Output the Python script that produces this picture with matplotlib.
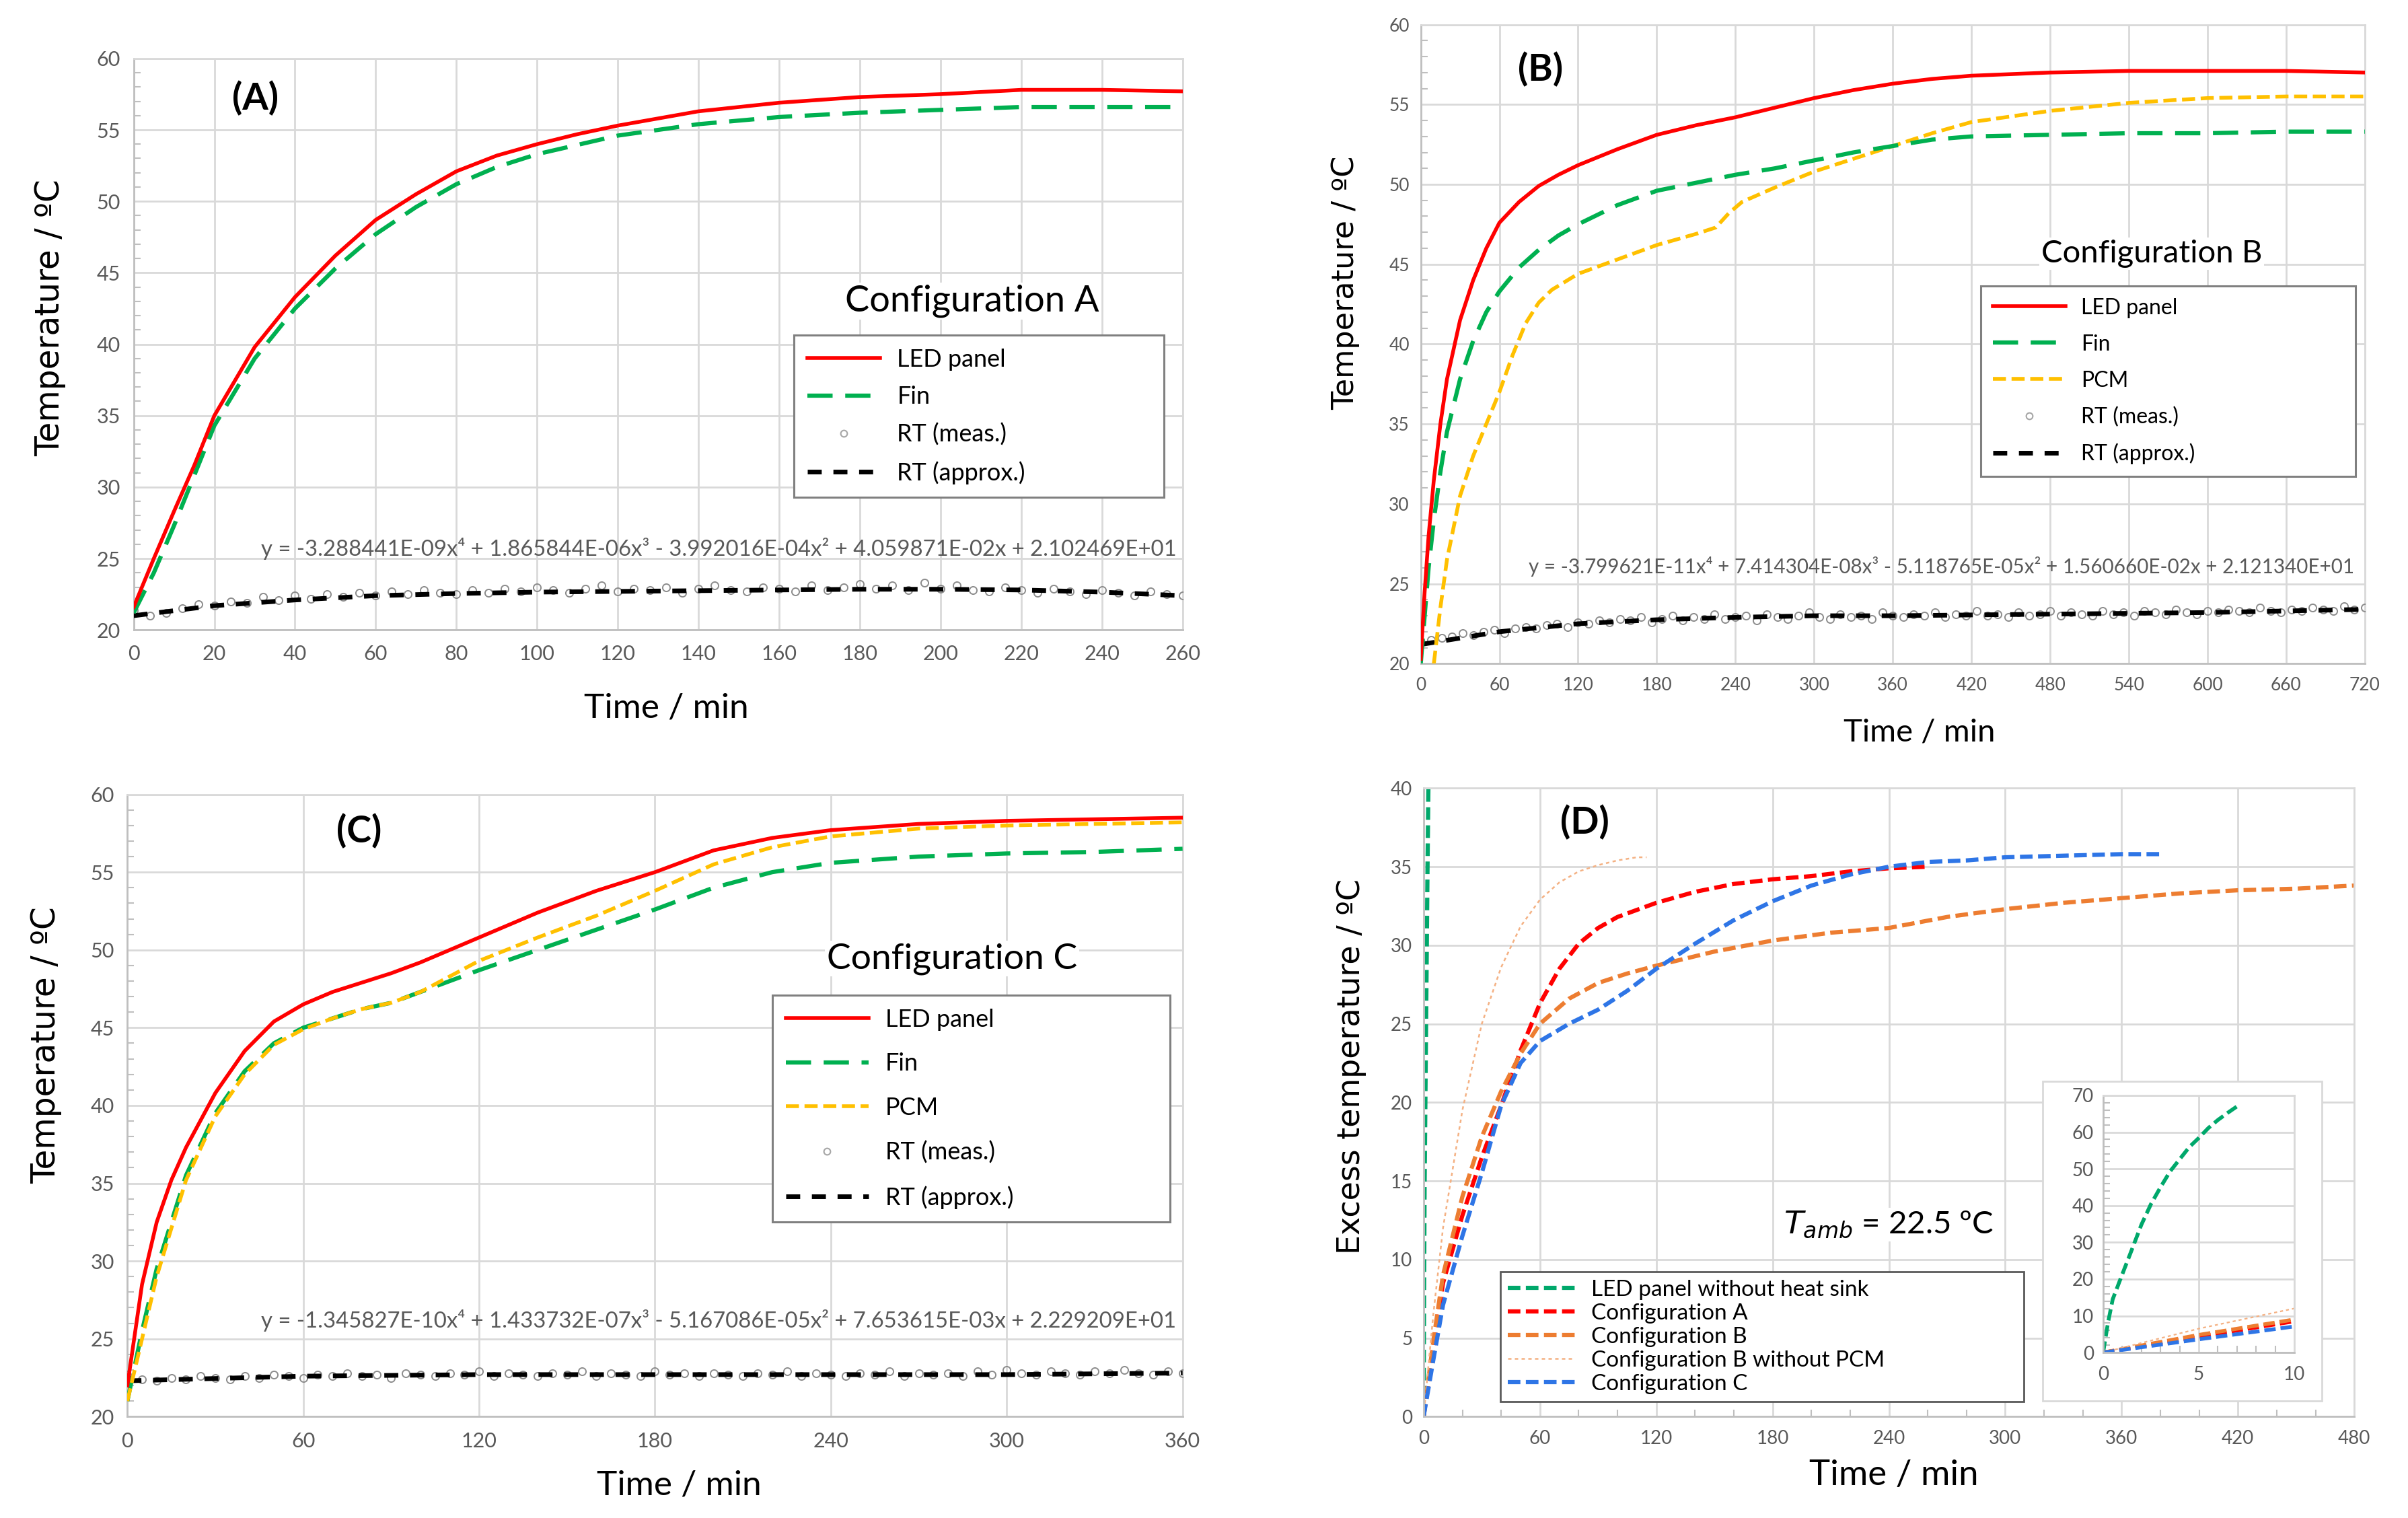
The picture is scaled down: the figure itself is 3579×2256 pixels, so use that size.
import numpy as np
import matplotlib
matplotlib.use("Agg")
import matplotlib.pyplot as plt
from matplotlib.lines import Line2D
from matplotlib.patches import Rectangle
from matplotlib.ticker import MultipleLocator

plt.rcParams["font.family"] = ["Lato", "DejaVu Sans"]

RED = "#FF0000"
GREEN = "#00B050"
GOLD = "#FFC000"
RT_GRAY = "#8C8C8C"
GRID = "#D9D9D9"
TICK = "#595959"

# ---------------- panel A : configuration A ----------------
a_led_t = [0, 5, 10, 15, 20, 30, 40, 50, 60, 70, 80, 90, 100, 110, 120, 130, 140, 160, 180, 200, 220, 240, 260]
a_led_T = [21.6, 25.0, 28.3, 31.5, 35.0, 39.8, 43.3, 46.2, 48.7, 50.5, 52.1, 53.2, 54.0, 54.7, 55.3, 55.8, 56.3, 56.9, 57.3, 57.5, 57.8, 57.8, 57.7]
a_fin_t = [0, 5, 10, 15, 20, 30, 40, 50, 60, 70, 80, 90, 100, 120, 140, 160, 180, 200, 220, 240, 260]
a_fin_T = [21.2, 24.0, 27.3, 30.8, 34.3, 39.0, 42.5, 45.3, 47.7, 49.6, 51.2, 52.4, 53.3, 54.6, 55.4, 55.9, 56.2, 56.4, 56.6, 56.6, 56.6]
a_rt_step = 4
a_rt_meas = [21.4, 21.0, 21.2, 21.5, 21.8, 21.7, 22.0, 21.9, 22.3, 22.1,
             22.4, 22.2, 22.5, 22.3, 22.6, 22.4, 22.7, 22.5, 22.8, 22.6,
             22.5, 22.8, 22.6, 22.9, 22.7, 23.0, 22.8, 22.6, 22.9, 23.1,
             22.7, 22.9, 22.8, 23.0, 22.6, 22.9, 23.1, 22.8, 22.7, 23.0,
             22.9, 22.7, 23.1, 22.8, 23.0, 23.2, 22.9, 23.1, 22.8, 23.3,
             22.9, 23.1, 22.8, 22.7, 23.0, 22.8, 22.6, 22.9, 22.7, 22.5,
             22.8, 22.6, 22.4, 22.7, 22.5, 22.4]
a_rt_t = [0, 20, 40, 60, 80, 100, 120, 140, 160, 180, 200, 220, 240, 260]
a_rt_T = [21.0, 21.7, 22.1, 22.4, 22.55, 22.65, 22.7, 22.75, 22.8, 22.85, 22.85, 22.8, 22.65, 22.4]
a_eq = "y = -3.288441E-09x⁴ + 1.865844E-06x³ - 3.992016E-04x² + 4.059871E-02x + 2.102469E+01"

# ---------------- panel B : configuration B ----------------
b_led_t = [0, 3, 6, 10, 15, 20, 30, 40, 50, 60, 75, 90, 105, 120, 150, 180, 210, 240, 270, 300, 330, 360, 390, 420, 480, 540, 600, 660, 720]
b_led_T = [20.3, 24.5, 28.0, 31.5, 35.0, 37.8, 41.5, 44.0, 46.0, 47.6, 48.9, 49.9, 50.6, 51.2, 52.2, 53.1, 53.7, 54.2, 54.8, 55.4, 55.9, 56.3, 56.6, 56.8, 57.0, 57.1, 57.1, 57.1, 57.0]
b_fin_t = [0, 3, 6, 10, 15, 20, 30, 40, 50, 60, 75, 90, 105, 120, 150, 180, 210, 240, 270, 300, 330, 360, 390, 420, 480, 540, 600, 660, 720]
b_fin_T = [20.0, 23.0, 26.0, 29.0, 32.0, 34.5, 37.8, 40.2, 42.0, 43.3, 44.8, 45.9, 46.8, 47.5, 48.7, 49.6, 50.1, 50.6, 51.0, 51.5, 52.0, 52.4, 52.8, 53.0, 53.1, 53.2, 53.2, 53.3, 53.3]
b_pcm_t = [10, 15, 20, 30, 40, 50, 60, 70, 80, 90, 100, 120, 150, 180, 210, 225, 235, 245, 270, 300, 330, 360, 390, 420, 480, 540, 600, 660, 720]
b_pcm_T = [20.0, 23.5, 26.5, 30.5, 33.0, 35.0, 37.0, 39.3, 41.3, 42.6, 43.4, 44.4, 45.3, 46.2, 46.9, 47.3, 48.2, 48.9, 49.8, 50.8, 51.6, 52.4, 53.2, 53.9, 54.6, 55.1, 55.4, 55.5, 55.5]
b_rt_step = 8
b_rt_meas = [21.3, 21.5, 21.6, 21.7, 21.9, 21.8, 22.0, 22.1, 21.9, 22.2,
             22.3, 22.2, 22.4, 22.5, 22.3, 22.6, 22.5, 22.7, 22.6, 22.8,
             22.7, 22.9, 22.6, 22.8, 23.0, 22.7, 22.9, 22.8, 23.1, 22.8,
             22.9, 23.0, 22.7, 23.1, 22.9, 22.8, 23.0, 23.2, 22.9, 22.8,
             23.1, 22.9, 23.0, 22.8, 23.2, 23.0, 22.9, 23.1, 23.0, 23.2,
             22.9, 23.1, 23.0, 23.3, 23.0, 23.1, 22.9, 23.2, 23.0, 23.1,
             23.3, 23.0, 23.2, 23.1, 23.0, 23.3, 23.1, 23.2, 23.0, 23.3,
             23.2, 23.1, 23.4, 23.2, 23.1, 23.3, 23.2, 23.4, 23.3, 23.2,
             23.5, 23.3, 23.2, 23.4, 23.3, 23.5, 23.4, 23.3, 23.6, 23.4, 23.5]
b_rt_t = [0, 60, 120, 180, 240, 300, 360, 420, 480, 540, 600, 660, 720]
b_rt_T = [21.2, 22.0, 22.5, 22.75, 22.9, 23.0, 23.0, 23.05, 23.1, 23.15, 23.2, 23.3, 23.4]
b_eq = "y = -3.799621E-11x⁴ + 7.414304E-08x³ - 5.118765E-05x² + 1.560660E-02x + 2.121340E+01"

# ---------------- panel C : configuration C ----------------
c_led_t = [0, 5, 10, 15, 20, 30, 40, 50, 60, 70, 80, 90, 100, 120, 140, 160, 180, 200, 220, 240, 270, 300, 330, 360]
c_led_T = [22.0, 28.5, 32.5, 35.2, 37.3, 40.8, 43.5, 45.4, 46.5, 47.3, 47.9, 48.5, 49.2, 50.8, 52.4, 53.8, 55.0, 56.4, 57.2, 57.7, 58.1, 58.3, 58.4, 58.5]
c_fin_t = [0, 5, 10, 20, 30, 40, 50, 60, 70, 80, 90, 100, 120, 140, 160, 180, 200, 220, 240, 270, 300, 330, 360]
c_fin_T = [21.0, 25.5, 29.5, 35.5, 39.5, 42.2, 44.0, 45.0, 45.6, 46.2, 46.6, 47.3, 48.7, 50.0, 51.3, 52.6, 54.0, 55.0, 55.6, 56.0, 56.2, 56.3, 56.5]
c_pcm_t = [0, 5, 10, 20, 30, 40, 50, 60, 70, 80, 90, 100, 120, 140, 160, 180, 200, 220, 240, 270, 300, 330, 360]
c_pcm_T = [21.0, 25.0, 29.0, 35.2, 39.3, 42.0, 43.9, 44.9, 45.6, 46.2, 46.6, 47.3, 49.3, 50.8, 52.2, 53.8, 55.5, 56.6, 57.3, 57.8, 58.0, 58.1, 58.2]
c_rt_step = 5
c_rt_meas = [22.7, 22.4, 22.3, 22.5, 22.4, 22.6, 22.5, 22.4, 22.6, 22.5,
             22.7, 22.6, 22.5, 22.7, 22.6, 22.8, 22.6, 22.7, 22.5, 22.8,
             22.7, 22.6, 22.8, 22.7, 22.9, 22.6, 22.8, 22.7, 22.6, 22.8,
             22.7, 22.9, 22.6, 22.8, 22.7, 22.6, 22.9, 22.7, 22.8, 22.6,
             22.8, 22.7, 22.6, 22.8, 22.7, 22.9, 22.6, 22.8, 22.7, 22.6,
             22.8, 22.7, 22.9, 22.6, 22.8, 22.7, 22.8, 22.6, 22.9, 22.7,
             23.0, 22.8, 22.7, 22.9, 22.8, 22.7, 22.9, 22.8, 23.0, 22.8,
             22.7, 22.9, 22.8]
c_rt_t = [0, 60, 120, 180, 240, 300, 360]
c_rt_T = [22.3, 22.6, 22.7, 22.7, 22.7, 22.7, 22.8]
c_eq = "y = -1.345827E-10x⁴ + 1.433732E-07x³ - 5.167086E-05x² + 7.653615E-03x + 2.229209E+01"

# ---------------- panel D : excess temperature ----------------
d_nosink_t = [0, 0.25, 0.5, 1, 1.5, 2, 2.5, 3, 3.5, 4, 4.5, 5, 5.5, 6, 6.5, 7]
d_nosink_E = [0, 8.0, 14.5, 21.3, 28.0, 34.8, 40.4, 45.0, 49.3, 52.6, 55.9, 58.4, 61.1, 63.3, 65.2, 67.0]
d_a_t = [0, 5, 10, 20, 30, 40, 50, 60, 70, 80, 90, 100, 120, 140, 160, 180, 200, 220, 240, 260]
d_a_E = [0, 4.3, 8.5, 12.8, 16.5, 19.8, 23.3, 26.3, 28.5, 30.1, 31.1, 31.8, 32.7, 33.4, 33.9, 34.2, 34.4, 34.7, 34.9, 35.0]
d_b_t = [0, 5, 10, 20, 30, 40, 50, 60, 75, 90, 105, 120, 150, 180, 210, 240, 270, 300, 330, 360, 390, 420, 450, 480]
d_b_E = [0, 4.8, 9.0, 14.0, 17.8, 20.7, 23.1, 25.0, 26.6, 27.6, 28.2, 28.7, 29.6, 30.3, 30.8, 31.1, 31.8, 32.3, 32.7, 33.0, 33.3, 33.5, 33.6, 33.8]
d_bnopcm_t = [0, 5, 10, 20, 30, 40, 50, 60, 70, 80, 90, 100, 110, 115]
d_bnopcm_E = [0, 6.5, 12.0, 19.5, 25.0, 28.6, 31.2, 32.9, 34.0, 34.7, 35.1, 35.4, 35.6, 35.6]
d_c_t = [0, 5, 10, 20, 30, 40, 50, 60, 75, 90, 105, 120, 140, 160, 180, 200, 220, 240, 260, 280, 300, 330, 360, 380]
d_c_E = [0, 3.6, 7.1, 11.5, 15.5, 19.8, 22.5, 23.9, 25.0, 25.9, 27.1, 28.5, 30.1, 31.6, 32.8, 33.8, 34.5, 35.0, 35.3, 35.4, 35.6, 35.7, 35.8, 35.8]


def setup(ax, xmax, xstep, ymin, ymax, ystep, fs, xpad, ypad, yminor=None, xminor=None):
    ax.set_xlim(0, xmax)
    ax.set_ylim(ymin, ymax)
    ax.xaxis.set_major_locator(MultipleLocator(xstep))
    ax.yaxis.set_major_locator(MultipleLocator(ystep))
    if yminor:
        ax.yaxis.set_minor_locator(MultipleLocator(yminor))
    if xminor:
        ax.xaxis.set_minor_locator(MultipleLocator(xminor))
    ax.grid(True, which="major", color=GRID, lw=2)
    ax.set_axisbelow(True)
    for s in ax.spines.values():
        s.set_color(GRID)
        s.set_linewidth(2)
    ax.spines["left"].set_color("#BFBFBF")
    ax.spines["bottom"].set_color("#BFBFBF")
    ax.tick_params(which="major", length=0, labelsize=fs, labelcolor=TICK)
    ax.tick_params(axis="x", which="major", pad=xpad)
    ax.tick_params(axis="y", which="major", pad=ypad)
    ax.tick_params(which="minor", direction="in", length=7, width=1.5, color="#BFBFBF")


def labels(ax, xl, yl, xpos, ypos, xfs, yfs):
    ax.set_xlabel(xl, fontsize=xfs)
    ax.set_ylabel(yl, fontsize=yfs, family=["DejaVu Sans"])
    ax.xaxis.set_label_coords(*xpos)
    ax.yaxis.set_label_coords(*ypos)
    ax.xaxis.label.set_va("center")
    ax.yaxis.label.set_va("center")


def rt_points(ax, step, vals):
    t = np.arange(len(vals)) * step
    ax.plot(t, vals, ls="none", marker="o", ms=8, mfc="none", mec=RT_GRAY, mew=1.4, zorder=3)


fig = plt.figure(figsize=(35.79, 22.56), dpi=100)

led_h = Line2D([], [], color=RED, lw=4)
fin_h = Line2D([], [], color=GREEN, lw=4.5, dashes=(6, 3))
pcm_h = Line2D([], [], color=GOLD, lw=4, dashes=(3.5, 1.5))
rtm_h = Line2D([], [], ls="none", marker="o", ms=7, mfc="none", mec="#A6A6A6", mew=1.5)
rta_h = Line2D([], [], color="black", lw=5, dashes=(3, 2.5))


def leg(ax, handles, names, box, fs, spacing, hl, pad=0.55):
    x, ytop, w, h = box
    lg = ax.legend(handles, names, loc="upper left", bbox_to_anchor=(x, ytop - h, w, h),
                   bbox_transform=fig.transFigure, mode="expand", fontsize=fs, frameon=True,
                   fancybox=False, edgecolor="#808080", framealpha=1,
                   borderaxespad=0, borderpad=pad, labelspacing=spacing,
                   handlelength=hl, handletextpad=0.7, numpoints=1)
    lg.get_frame().set_linewidth(2.2)
    return lg


# ---- A ----
ax_a = fig.add_axes([0.0555, 0.585, 0.4356, 0.3765])
setup(ax_a, 260, 20, 20, 60, 5, 22, 16, 14, yminor=1)
rt_points(ax_a, a_rt_step, a_rt_meas)
ax_a.plot(a_rt_t, a_rt_T, color="black", lw=5, dashes=(3, 2.5), zorder=4)
ax_a.plot(a_fin_t, a_fin_T, color=GREEN, lw=4.5, dashes=(6, 3), zorder=5)
ax_a.plot(a_led_t, a_led_T, color=RED, lw=4, zorder=6)
labels(ax_a, "Time / min", "Temperature / ºC", (0.508, -0.137), (-0.08, 0.546), 37, 35)
leg(ax_a, [led_h, fin_h, rtm_h, rta_h], ["LED panel", "Fin", "RT (meas.)", "RT (approx.)"],
    (0.3297, 0.7793, 0.1537, 0.1083), 26, 0.62, 3.0)
fig.text(0.1059, 0.9352, "(A)", fontsize=40, fontweight="bold", ha="center", va="center")
fig.text(0.4037, 0.8016, "Configuration A", fontsize=39, ha="center", va="center",
         bbox=dict(facecolor="white", edgecolor="none", pad=2))
fig.text(0.4885, 0.6387, a_eq, fontsize=23.7, color=TICK, ha="right", va="center")

# ---- B ----
ax_b = fig.add_axes([0.590, 0.5628, 0.3921, 0.421])
setup(ax_b, 720, 60, 20, 60, 5, 19, 14, 12, yminor=1)
rt_points(ax_b, b_rt_step, b_rt_meas)
ax_b.plot(b_rt_t, b_rt_T, color="black", lw=5, dashes=(3, 2.5), zorder=4)
ax_b.plot(b_pcm_t, b_pcm_T, color=GOLD, lw=4, dashes=(3.5, 1.5), zorder=5)
ax_b.plot(b_fin_t, b_fin_T, color=GREEN, lw=4.5, dashes=(6, 3), zorder=5)
ax_b.plot(b_led_t, b_led_T, color=RED, lw=4, zorder=6)
labels(ax_b, "Time / min", "Temperature / ºC", (0.528, -0.108), (-0.08, 0.596), 34, 32)
leg(ax_b, [led_h, fin_h, pcm_h, rtm_h, rta_h], ["LED panel", "Fin", "PCM", "RT (meas.)", "RT (approx.)"],
    (0.8226, 0.8116, 0.1556, 0.1336), 23, 0.75, 3.4)
fig.text(0.6397, 0.9545, "(B)", fontsize=40, fontweight="bold", ha="center", va="center")
fig.text(0.8935, 0.833, "Configuration B", fontsize=34, ha="center", va="center",
         bbox=dict(facecolor="white", edgecolor="none", pad=2))
fig.text(0.9776, 0.6267, b_eq, fontsize=21.3, color=TICK, ha="right", va="center")

# ---- C ----
ax_c = fig.add_axes([0.0529, 0.0668, 0.4382, 0.4099])
setup(ax_c, 360, 60, 20, 60, 5, 22, 16, 14, yminor=1)
rt_points(ax_c, c_rt_step, c_rt_meas)
ax_c.plot(c_rt_t, c_rt_T, color="black", lw=5, dashes=(3, 2.5), zorder=4)
ax_c.plot(c_fin_t, c_fin_T, color=GREEN, lw=4.5, dashes=(6, 3), zorder=5)
ax_c.plot(c_pcm_t, c_pcm_T, color=GOLD, lw=4, dashes=(3.5, 1.5), zorder=5)
ax_c.plot(c_led_t, c_led_T, color=RED, lw=4, zorder=6)
labels(ax_c, "Time / min", "Temperature / ºC", (0.5226, -0.111), (-0.077, 0.5975), 37, 35)
leg(ax_c, [led_h, fin_h, pcm_h, rtm_h, rta_h], ["LED panel", "Fin", "PCM", "RT (meas.)", "RT (approx.)"],
    (0.3208, 0.3444, 0.1652, 0.1488), 26, 0.9, 3.4)
fig.text(0.1492, 0.4524, "(C)", fontsize=40, fontweight="bold", ha="center", va="center")
fig.text(0.3954, 0.3684, "Configuration C", fontsize=38.5, ha="center", va="center",
         bbox=dict(facecolor="white", edgecolor="none", pad=2))
fig.text(0.4885, 0.1299, c_eq, fontsize=23.7, color=TICK, ha="right", va="center")

# ---- D ----
D_GREEN = "#00A86B"
D_ORANGE = "#ED7D31"
D_LIGHT = "#F4B183"
D_BLUE = "#2E75E6"
d_series = [
    (d_nosink_t, d_nosink_E, D_GREEN, 4.5, (3, 1.3), "LED panel without heat sink"),
    (d_a_t, d_a_E, RED, 4.5, (3, 1.3), "Configuration A"),
    (d_b_t, d_b_E, D_ORANGE, 4.5, (3, 1.3), "Configuration B"),
    (d_bnopcm_t, d_bnopcm_E, D_LIGHT, 1.8, (2, 2), "Configuration B without PCM"),
    (d_c_t, d_c_E, D_BLUE, 4.5, (3, 1.3), "Configuration C"),
]

ax_d = fig.add_axes([0.5912, 0.0668, 0.3865, 0.414])
setup(ax_d, 480, 60, 0, 40, 5, 20, 14, 12, xminor=20)
for t, e, c, lw, ds, name in d_series:
    ax_d.plot(t, e, color=c, lw=lw, dashes=ds, label=name)
labels(ax_d, "Time / min", "Excess temperature / ºC", (0.505, -0.093), (-0.078, 0.557), 38, 33)
lg = ax_d.legend(loc="upper left", bbox_to_anchor=(0.623, 0.1622 - 0.085, 0.2175, 0.085),
                 bbox_transform=fig.transFigure, mode="expand",
                 fontsize=24, frameon=True, fancybox=False, edgecolor="#595959", framealpha=1,
                 borderaxespad=0, borderpad=0.35, labelspacing=0.15, handlelength=3.0,
                 handletextpad=0.7)
lg.get_frame().set_linewidth(2)
fig.text(0.6582, 0.4585, "(D)", fontsize=40, fontweight="bold", ha="center", va="center")
fig.text(0.7844, 0.1933, r"$T_{amb}$ = 22.5 ºC", fontsize=34, ha="center", va="center",
         bbox=dict(facecolor="white", edgecolor="none", pad=2))

frame = Rectangle((0.8483, 0.0771), 0.1159, 0.2106, transform=fig.transFigure,
                  facecolor="white", edgecolor=GRID, lw=2, zorder=2)
fig.add_artist(frame)
ax_in = fig.add_axes([0.8734, 0.109, 0.0794, 0.1694])
ax_in.set_zorder(3)
setup(ax_in, 10, 5, 0, 70, 10, 20, 14, 10, yminor=2, xminor=1)
for t, e, c, lw, ds, name in d_series:
    ax_in.plot(t, e, color=c, lw=lw * 0.9, dashes=ds)

fig.savefig("out.png", dpi=100)
